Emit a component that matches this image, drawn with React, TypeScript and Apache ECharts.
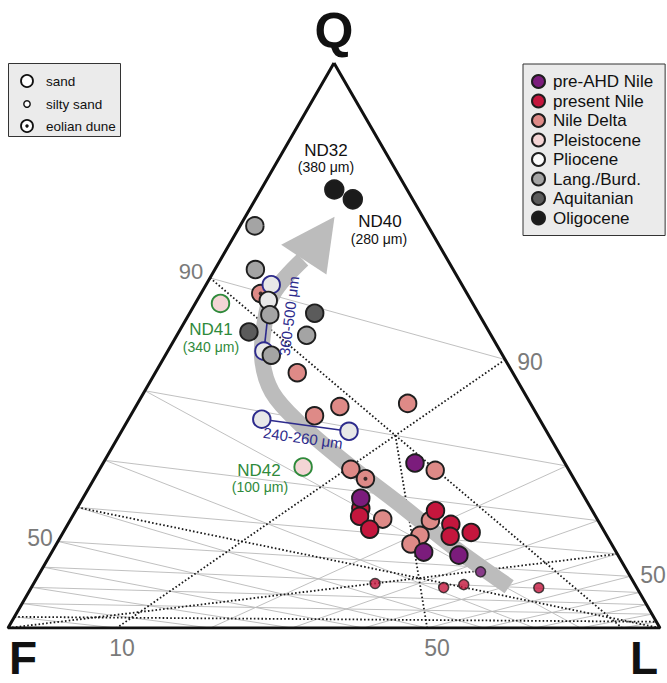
import React, { useEffect, useRef } from "react";
import * as echarts from "echarts";

// Compositions are [Q, F, L] in percent.
type Comp = [number, number, number];

// centring perturbation used by the diagram (Q, F, L)
const CENTRE: Comp = [0.181, 1, 1.8];

const oligocene: Comp[] = [[96.1, 2.5, 1.4], [95.9, 2.1, 1.9]];
const aquitanian: Comp[] = [[87.2, 11.1, 1.8], [89.5, 7.3, 3.1]];
const langBurd: Comp[] = [[93.3, 6.3, 0.3], [91.3, 7.9, 0.9], [88.7, 9.3, 2.0], [88.0, 8.7, 3.4], [85.7, 11.4, 2.9]];
const pliocene: Comp[] = [[90.7, 7.9, 1.5], [89.6, 8.7, 1.7], [85.9, 11.5, 2.6], [79.1, 16.5, 4.4], [79.4, 12.5, 8.0]];
const plioceneSized = [true, false, true, true, true]; // grain-size labelled samples (blue rim)
const pleistocene: Comp[] = [[88.6, 10.8, 0.6], [73.1, 18.8, 8.0]];
const pleistoceneNames = ["ND41", "ND42"];
const nileDelta: Comp[] = [
  [89.9, 8.7, 1.4], [84.6, 11.2, 4.1], [80.7, 13.3, 6.1], [82.2, 11.2, 6.6], [84.0, 7.2, 8.8], [73.9, 15.9, 10.2],
  [72.6, 15.9, 11.5], [64.1, 19.8, 16.0], [75.9, 10.1, 14.1], [65.1, 15.9, 19.0], [60.5, 19.1, 20.4], [57.4, 21.5, 21.1],
];
const nileDeltaEolian = [true, false, false, false, false, false, true, false, false, false, false, false];
const presentNile: Comp[] = [[66.3, 20.0, 13.7], [64.3, 21.3, 14.4], [61.0, 22.6, 16.4], [67.7, 14.2, 18.1], [64.6, 14.6, 20.8], [61.1, 16.4, 22.6], [62.9, 13.8, 23.4]];
const presentNileSilty: Comp[] = [[38.7, 35.4, 25.9], [37.9, 28.4, 33.7], [40.2, 24.9, 34.8], [40.3, 15.4, 44.3]];
const preAHD: Comp[] = [[68.6, 18.6, 12.8], [76.5, 10.9, 12.6], [54.8, 21.8, 23.4], [54.6, 18.7, 26.7]];
const preAHDSilty: Comp[] = [[47.7, 19.6, 32.6]];

const gridValues = [20, 30, 40, 50, 60, 70, 80, 90];
const boundaryLines: [Comp, Comp][] = [
  [[90, 10, 0], [0, 10, 90]],
  [[90, 0, 10], [0, 90, 10]],
  [[10, 90, 0], [10, 0, 90]],
  [[80, 10, 10], [0, 50, 50]],
  [[60, 40, 0], [0, 0, 100]],
  [[60, 0, 40], [0, 100, 0]],
];
const trendShaft: Comp[] = [
  [40.2, 19.4, 40.5], [57.8, 17.8, 24.5], [67.8, 16.4, 15.8], [75.3, 15.5, 9.2], [79.6, 14.7, 5.7],
  [82.4, 13.8, 3.9], [85.0, 12.2, 2.8], [87.8, 10.2, 2.1], [90.1, 8.2, 1.7], [92.5, 5.7, 1.8],
];
const trendHead: Comp[] = [[95.1, 3.2, 1.8], [92.9, 6.0, 1.1], [92.1, 5.3, 2.6]];
const sizeLinks: [number, number, string][] = [[0, 2, "360-500 μm"], [3, 4, "240-260 μm"]];

const legendNames = ["pre-AHD Nile", "present Nile", "Nile Delta", "Pleistocene", "Pliocene", "Lang./Burd.", "Aquitanian", "Oligocene"];

const FONT = "Liberation Sans, Arial, Helvetica, sans-serif";
const NAVY = "#2d2b8c";
const GREEN = "#2f8a3b";
const S3 = Math.sqrt(3) / 2;

function toXY(c: Comp): [number, number] {
  const a = c[0] * CENTRE[0];
  const b = c[1] * CENTRE[1];
  const d = c[2] * CENTRE[2];
  const s = a + b + d;
  const q = a / s;
  const l = d / s;
  return [l + q / 2, q * S3];
}

function segData(pairs: [Comp, Comp][]) {
  return pairs.map(([p, r]) => [...toXY(p), ...toXY(r)]);
}

function lineSeries(pairs: [Comp, Comp][], style: any, z: number) {
  return {
    type: "custom",
    z,
    silent: true,
    clip: false,
    data: segData(pairs),
    renderItem: (_p: any, api: any) => {
      const a = api.coord([api.value(0), api.value(1)]);
      const b = api.coord([api.value(2), api.value(3)]);
      return { type: "line", shape: { x1: a[0], y1: a[1], x2: b[0], y2: b[1] }, style };
    },
  };
}

function dotSeries(name: string, comps: Comp[], color: string, size: number, extra: any = {}) {
  return {
    type: "scatter",
    name,
    z: 10,
    symbol: "circle",
    symbolSize: size,
    data: comps.map((c) => toXY(c)),
    itemStyle: { color, borderColor: "#1e1e1e", borderWidth: 1.9, opacity: 1 },
    ...extra,
  };
}

export default function App() {
  const ref = useRef<HTMLDivElement>(null);
  useEffect(() => {
    if (!ref.current) return;
    const chart = echarts.init(ref.current, undefined, { renderer: "svg" });

    const gridPairs: [Comp, Comp][] = [];
    gridValues.forEach((v) => {
      gridPairs.push([[v, 100 - v, 0], [v, 0, 100 - v]]);
      gridPairs.push([[100 - v, v, 0], [0, v, 100 - v]]);
      gridPairs.push([[100 - v, 0, v], [0, 100 - v, v]]);
    });

    const big = 17.5;
    const small = 10;

    const outline = [toXY([100, 0, 0]), toXY([0, 100, 0]), toXY([0, 0, 100]), toXY([100, 0, 0])];

    const series: any[] = [
      lineSeries(gridPairs, { stroke: "#b9b9b9", lineWidth: 0.9 }, 1),
      lineSeries(boundaryLines, { stroke: "#1a1a1a", lineWidth: 1.8, lineDash: [1.6, 2.2] }, 2),
      {
        type: "custom",
        z: 3,
        silent: true,
        clip: false,
        data: [[0, 0]],
        renderItem: (_p: any, api: any) => {
          const shaft = trendShaft.map((c) => api.coord(toXY(c)));
          const head = trendHead.map((c) => api.coord(toXY(c)));
          return {
            type: "group",
            children: [
              { type: "polyline", shape: { points: shaft, smooth: 0.35 }, style: { stroke: "#bcbcbc", lineWidth: 16, fill: null, lineCap: "butt", lineJoin: "round" } },
              { type: "polygon", shape: { points: head }, style: { fill: "#bcbcbc" } },
            ],
          };
        },
      },
      {
        type: "line",
        z: 4,
        silent: true,
        data: outline,
        showSymbol: false,
        symbol: "none",
        lineStyle: { color: "#111", width: 3 },
      },
      lineSeries(sizeLinks.map(([i, j]) => [pliocene[i], pliocene[j]] as [Comp, Comp]), { stroke: NAVY, lineWidth: 1.6 }, 5),
      dotSeries("Nile Delta", nileDelta, "#de8a87", big),
      {
        type: "scatter",
        name: "eolian",
        z: 10,
        symbolSize: 4,
        data: nileDelta.filter((_, i) => nileDeltaEolian[i]).map((c) => toXY(c)),
        itemStyle: { color: "#111" },
      },
      dotSeries("Pleistocene", pleistocene, "#f4d5d5", big, {
        data: pleistocene.map((c, i) => ({ value: toXY(c), name: pleistoceneNames[i], itemStyle: { borderColor: GREEN } })),
      }),
      dotSeries("Pliocene", pliocene, "#e8e8e8", big, {
        data: pliocene.map((c, i) => ({ value: toXY(c), itemStyle: plioceneSized[i] ? { borderColor: NAVY } : {} })),
      }),
      dotSeries("Lang./Burd.", langBurd, "#a4a4a4", big),
      dotSeries("Aquitanian", aquitanian, "#5b5b5b", big),
      dotSeries("Oligocene", oligocene, "#1b1b1b", big + 1),
      dotSeries("present Nile", presentNile, "#c4163d", big),
      dotSeries("present Nile", presentNileSilty, "#c4163d", small, { itemStyle: { color: "#c4163d", borderColor: "#1e1e1e", borderWidth: 1.5 } }),
      dotSeries("pre-AHD Nile", preAHD, "#7b1c7c", big),
      dotSeries("pre-AHD Nile", preAHDSilty, "#7b1c7c", small, { itemStyle: { color: "#7b1c7c", borderColor: "#1e1e1e", borderWidth: 1.5 } }),
    ];

    const txt = (text: string, x: number, y: number, size: number, fill: string, extra: any = {}) => ({
      type: "text",
      x,
      y,
      z: 20,
      style: { text, fill, font: `${extra.bold ? "bold " : ""}${size}px ${FONT}`, textAlign: "center", textVerticalAlign: "middle" },
      rotation: extra.rotation || 0,
      silent: true,
    });

    const graphic: any[] = [
      txt("Q", 334, 31, 50, "#111", { bold: true }),
      txt("F", 23, 658, 46, "#111", { bold: true }),
      txt("L", 644, 658, 46, "#111", { bold: true }),
      txt("90", 191, 271, 22, "#7a7a7a"),
      txt("50", 40, 538, 23, "#7a7a7a"),
      txt("90", 530, 362, 23, "#7a7a7a"),
      txt("50", 653, 575, 23, "#7a7a7a"),
      txt("10", 122, 648, 23, "#7a7a7a"),
      txt("50", 437, 648, 23, "#7a7a7a"),
      txt("ND32", 326, 150, 17, "#111"),
      txt("(380 μm)", 326, 167, 14, "#111"),
      txt("ND40", 380, 221, 17, "#111"),
      txt("(280 μm)", 379, 239, 14, "#111"),
      txt("ND41", 211, 329, 17, GREEN),
      txt("(340 μm)", 211, 347, 14, GREEN),
      txt("ND42", 259, 470, 17, GREEN),
      txt("(100 μm)", 260, 487, 14, GREEN),
      txt(sizeLinks[0][2], 289, 316, 15, NAVY, { rotation: (83 * Math.PI) / 180 }),
      txt(sizeLinks[1][2], 303, 438, 15, NAVY, { rotation: (-8 * Math.PI) / 180 }),
      // grain-size legend
      { type: "rect", z: 20, shape: { x: 8.5, y: 63.5, width: 112, height: 73 }, style: { fill: "#ebebeb", stroke: "#333", lineWidth: 1 } },
      { type: "circle", z: 21, shape: { cx: 27, cy: 81, r: 6 }, style: { fill: "#fff", stroke: "#111", lineWidth: 1.8 } },
      { type: "circle", z: 21, shape: { cx: 27, cy: 104, r: 3.2 }, style: { fill: "#fff", stroke: "#111", lineWidth: 1.4 } },
      { type: "circle", z: 21, shape: { cx: 27, cy: 126, r: 6 }, style: { fill: "#fff", stroke: "#111", lineWidth: 1.8 } },
      { type: "circle", z: 22, shape: { cx: 27, cy: 126, r: 1.7 }, style: { fill: "#111" } },
      { type: "text", z: 21, x: 46, y: 81, style: { text: "sand", fill: "#111", font: `13.5px ${FONT}`, textVerticalAlign: "middle" } },
      { type: "text", z: 21, x: 46, y: 104, style: { text: "silty sand", fill: "#111", font: `13.5px ${FONT}`, textVerticalAlign: "middle" } },
      { type: "text", z: 21, x: 46, y: 126, style: { text: "eolian dune", fill: "#111", font: `13.5px ${FONT}`, textVerticalAlign: "middle" } },
    ];

    chart.setOption({
      animation: false,
      backgroundColor: "#fff",
      grid: { left: 8, right: 7, top: 63, bottom: 55 },
      xAxis: { type: "value", min: 0, max: 1, show: false },
      yAxis: { type: "value", min: 0, max: S3, show: false },
      legend: {
        data: legendNames.map((n) => (n === "Pliocene" ? { name: n, itemStyle: { color: "#fbfbfb" } } : { name: n })),
        orient: "vertical",
        left: 523,
        top: 64,
        icon: "circle",
        itemWidth: 13,
        itemHeight: 13,
        itemGap: 2.5,
        padding: [9, 12, 9, 8],
        backgroundColor: "#ebebeb",
        borderColor: "#333",
        borderWidth: 1,
        selectedMode: false,
        textStyle: { fontSize: 17, color: "#111", fontFamily: FONT, padding: [0, 0, 0, 3] },
      },
      series,
      graphic,
    });
    return () => chart.dispose();
  }, []);
  return <div ref={ref} style={{ position: "absolute", left: 0, top: 0, width: 667, height: 683 }} />;
}
